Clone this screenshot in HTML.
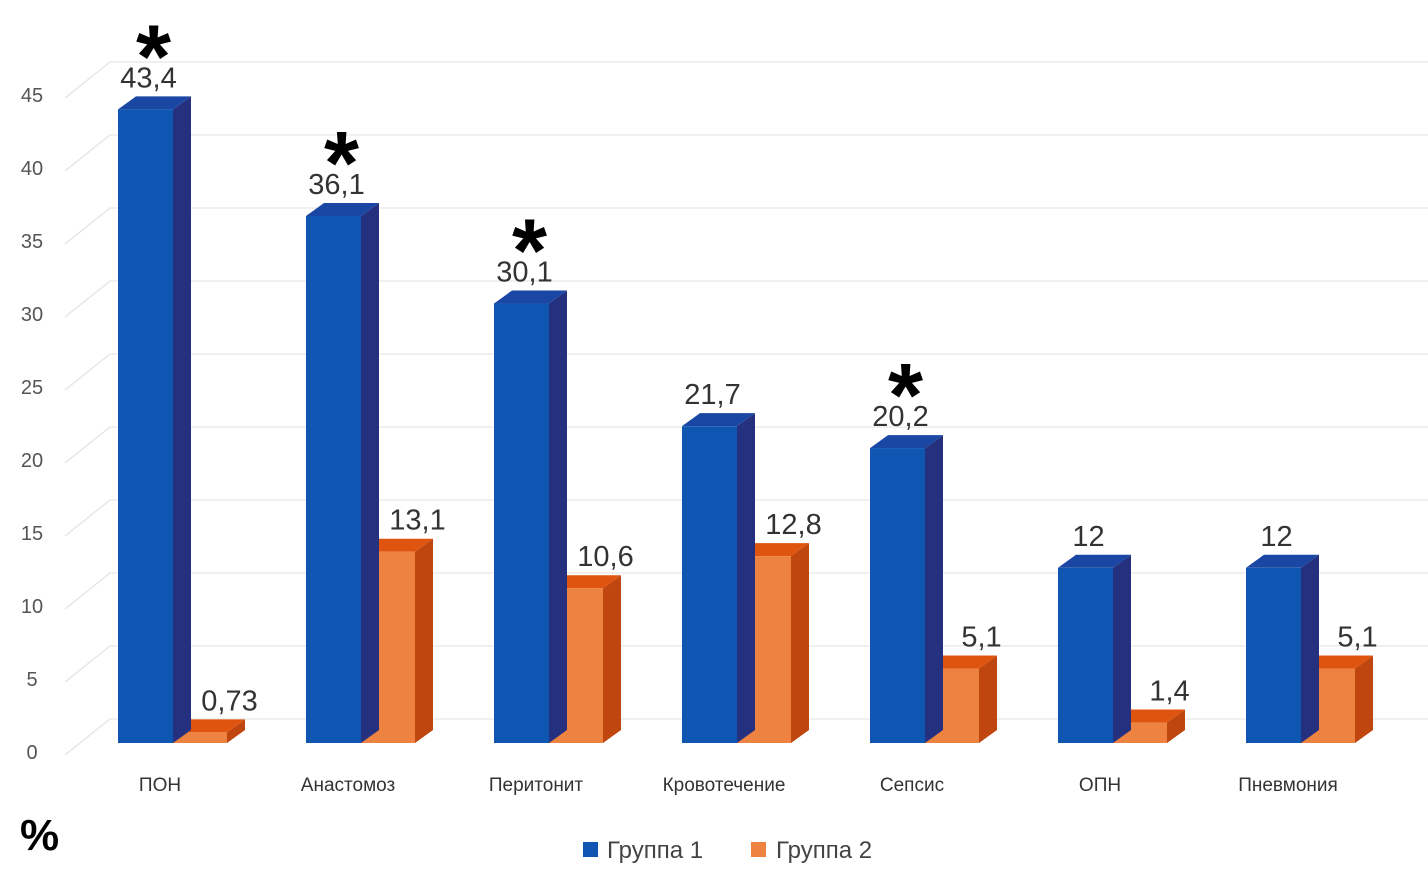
<!DOCTYPE html>
<html><head><meta charset="utf-8"><style>
html,body{margin:0;padding:0;background:#fff;}
svg{display:block;font-family:"Liberation Sans","DejaVu Sans",sans-serif;}
</style></head><body>
<svg id="chart" width="1428" height="876" viewBox="0 0 1428 876" xmlns="http://www.w3.org/2000/svg"></svg>
<script>
const categories=["ПОН","Анастомоз","Перитонит","Кровотечение","Сепсис","ОПН","Пневмония"];
const group1=[43.4,36.1,30.1,21.7,20.2,12,12];
const group2=[0.73,13.1,10.6,12.8,5.1,1.4,5.1];
const group1Labels=["43,4","36,1","30,1","21,7","20,2","12","12"];
const group2Labels=["0,73","13,1","10,6","12,8","5,1","1,4","5,1"];
const significant=[true,true,true,false,true,false,false];
const yTicks=[0,5,10,15,20,25,30,35,40,45];

const NS="http://www.w3.org/2000/svg";
const svg=document.getElementById('chart');
const K=14.6, Y0=743, BACK0=719;
const yF=v=>Y0-v*K;
const yB=v=>BACK0-v*K;
const xCat=i=>118+i*188;
const BW=55, DX=18, DY=-13;
function mk(tag,attrs,parent){const e=document.createElementNS(NS,tag);for(const k in attrs)e.setAttribute(k,attrs[k]);(parent||svg).appendChild(e);return e;}

yTicks.forEach(t=>{
  const g=mk('g',{});
  
  
  mk('line',{x1:65,y1:yB(t)+36,x2:110,y2:yB(t),stroke:'#e3e3e3','stroke-width':1.2},g);
  mk('line',{x1:110,y1:yB(t),x2:1428,y2:yB(t),stroke:'#e8e8e8','stroke-width':1.2},g);
  const tx=mk('text',{x:32,y:yB(t)+40,'text-anchor':'middle','font-size':20,fill:'#555'},g);
  
  
  tx.textContent=t;
});

function bar(x,v,cols,name){
  const g=mk('g',{});
  
  
  const top=yF(v);
  mk('polygon',{points:`${x+BW},${top} ${x+BW+DX},${top+DY} ${x+BW+DX},${Y0+DY} ${x+BW},${Y0}`,fill:cols[1]},g);
  mk('polygon',{points:`${x},${top} ${x+DX},${top+DY} ${x+BW+DX},${top+DY} ${x+BW},${top}`,fill:cols[2]},g);
  mk('rect',{x:x,y:top,width:BW,height:Y0-top,fill:cols[0]},g);
}
const blue=['#0e56b2','#25317f','#1a47a3'];
const orange=['#ee8341','#bf460f','#df540f'];
categories.forEach((c,i)=>{
  const x=xCat(i);
  bar(x+BW-1,group2[i],orange,'bar-group2-'+i);
  bar(x,group1[i],blue,'bar-group1-'+i);
  const l1=mk('text',{x:x+BW/2+3,y:yF(group1[i])-22,'text-anchor':'middle','font-size':29,fill:'#333'});
  
  
  l1.textContent=group1Labels[i];
  const l2=mk('text',{x:x+BW*1.5+29,y:yF(group2[i])-22,'text-anchor':'middle','font-size':29,fill:'#333'});
  
  
  l2.textContent=group2Labels[i];
  if(significant[i]){
    const s=mk('text',{x:x+BW/2+8,y:yF(group1[i])-22,'text-anchor':'middle','font-size':90,'font-weight':'bold',fill:'#000'});
    
    
    s.textContent='*';
  }
  const cl=mk('text',{x:x+42,y:791,'text-anchor':'middle','font-size':19,fill:'#333'});
  
  
  cl.textContent=c;
});

const pct=mk('text',{x:20,y:850,'font-size':44,'font-weight':'bold',fill:'#000'});


pct.textContent='%';

const lg=mk('g',{});


const e1=mk('g',{},lg);


mk('rect',{x:583,y:842,width:15,height:15,fill:'#0e56b2'},e1);
mk('text',{x:607,y:858,'font-size':24,fill:'#444'},e1).textContent='Группа 1';
const e2=mk('g',{},lg);


mk('rect',{x:751,y:842,width:15,height:15,fill:'#ee8341'},e2);
mk('text',{x:776,y:858,'font-size':24,fill:'#444'},e2).textContent='Группа 2';
</script>
</body></html>
